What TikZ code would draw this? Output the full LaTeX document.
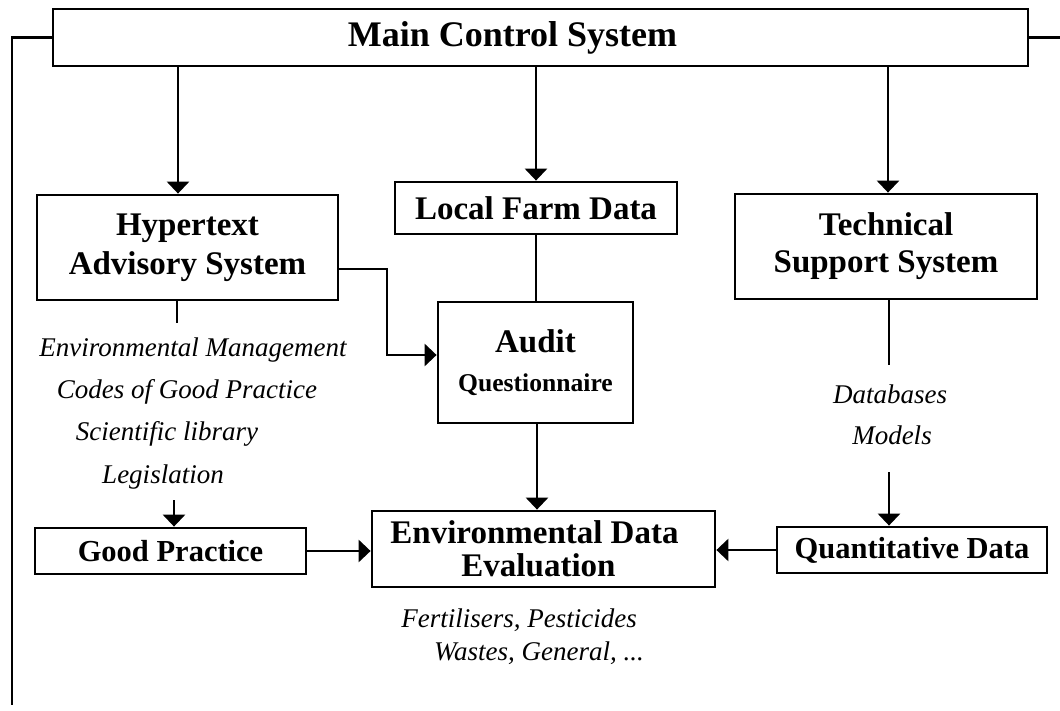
\documentclass[tikz,border=0pt]{standalone}
\usepackage{fontspec}
\setmainfont{Liberation Serif}
\usetikzlibrary{arrows.meta}
\tikzstyle{Box} = [draw, line width=1.4pt, inner sep=0pt, align=center,
font=\bfseries\fontsize{16.5}{19.5}\selectfont]
\tikzstyle{Line} = [line width=1.4pt]
\tikzstyle{Arrow} = [line width=1.4pt, -{Triangle[length=6pt, width=11pt]}]
\tikzstyle{Item} = [anchor=base, inner sep=0pt,
font=\itshape\fontsize{13.5}{16}\selectfont]

\begin{document}
\begin{tikzpicture}[x=0.5pt, y=-0.5pt]
    \useasboundingbox (0,0) rectangle (1060,711);
    \node [Box, minimum width=487.5pt, minimum height=28.5pt,
        font=\bfseries\fontsize{18}{21}\selectfont] (1) at (540.5,37.5) {Main Control System\hspace*{28pt}};
    \node [Box, minimum width=150.5pt, minimum height=52.5pt] (2) at (187.5,247.5) {Hypertext\\Advisory System};
    \node [Box, minimum width=141pt, minimum height=26pt] (3) at (536,208) {Local Farm Data};
    \node [Box, minimum width=151pt, minimum height=52.5pt,
        font=\bfseries\fontsize{16.5}{18.5}\selectfont] (4) at (886,246.5) {Technical\\Support System};
    \node [Box, minimum width=97.5pt, minimum height=60.5pt] (5) at (535.5,362.5)
        {Audit\\{\fontsize{12.8}{19.5}\selectfont Questionnaire}};
    \node [Box, minimum width=171.5pt, minimum height=38pt,
        font=\bfseries\fontsize{16.5}{16.5}\selectfont] (6) at (543.5,549)
        {Environmental Data\hspace*{9pt}\\Evaluation\hspace*{5pt}};
    \node [Box, minimum width=135.5pt, minimum height=23pt,
        font=\bfseries\fontsize{15.25}{18}\selectfont] (7) at (170.5,551) {Good Practice};
    \node [Box, minimum width=135pt, minimum height=23pt,
        font=\bfseries\fontsize{15.25}{18}\selectfont] (8) at (912,550) {Quantitative Data};
    \node [Item] (9) at (193,357) {Environmental Management};
    \node [Item] (10) at (187,398) {Codes of Good Practice};
    \node [Item] (11) at (167,440) {Scientific library};
    \node [Item] (12) at (163,483) {Legislation};
    \node [Item] (13) at (890,403) {Databases};
    \node [Item] (14) at (892,444) {Models};
    \node [Item] (17) at (519,627) {Fertilisers, Pesticides};
    \node [Item] (18) at (539,660) {Wastes, General, ...};
    \coordinate (15) at (12,705);
    \coordinate (16) at (1060,37.5);
    \coordinate (h1) at (177,323);
    \coordinate (g1) at (174,500);
    \coordinate (t1) at (889,365);
    \coordinate (t2) at (889,472);
    \draw[Line] (1.west) -| (15);
    \draw[Line] (1.east) -- (16);
    \draw[Arrow] (1.south -| 178,0) -- (2.north -| 178,0);
    \draw[Arrow] (1.south -| 3.north) -- (3.north);
    \draw[Arrow] (1.south -| 888,0) -- (4.north -| 888,0);
    \draw[Line] (3.south) -- (3.south |- 5.north);
    \draw[Arrow] (2.east |- 0,269) -| (387,355) -- (5.west |- 0,355);
    \draw[Arrow] (5.south -| 537,0) -- (6.north -| 537,0);
    \draw[Line] (2.south -| h1) -- (h1);
    \draw[Arrow] (g1) -- (g1 |- 7.north);
    \draw[Line] (4.south -| t1) -- (t1);
    \draw[Arrow] (t2) -- (t2 |- 8.north);
    \draw[Arrow] (7.east) -- (7.east -| 6.west);
    \draw[Arrow] (8.west) -- (8.west -| 6.east);
\end{tikzpicture}
\end{document}
